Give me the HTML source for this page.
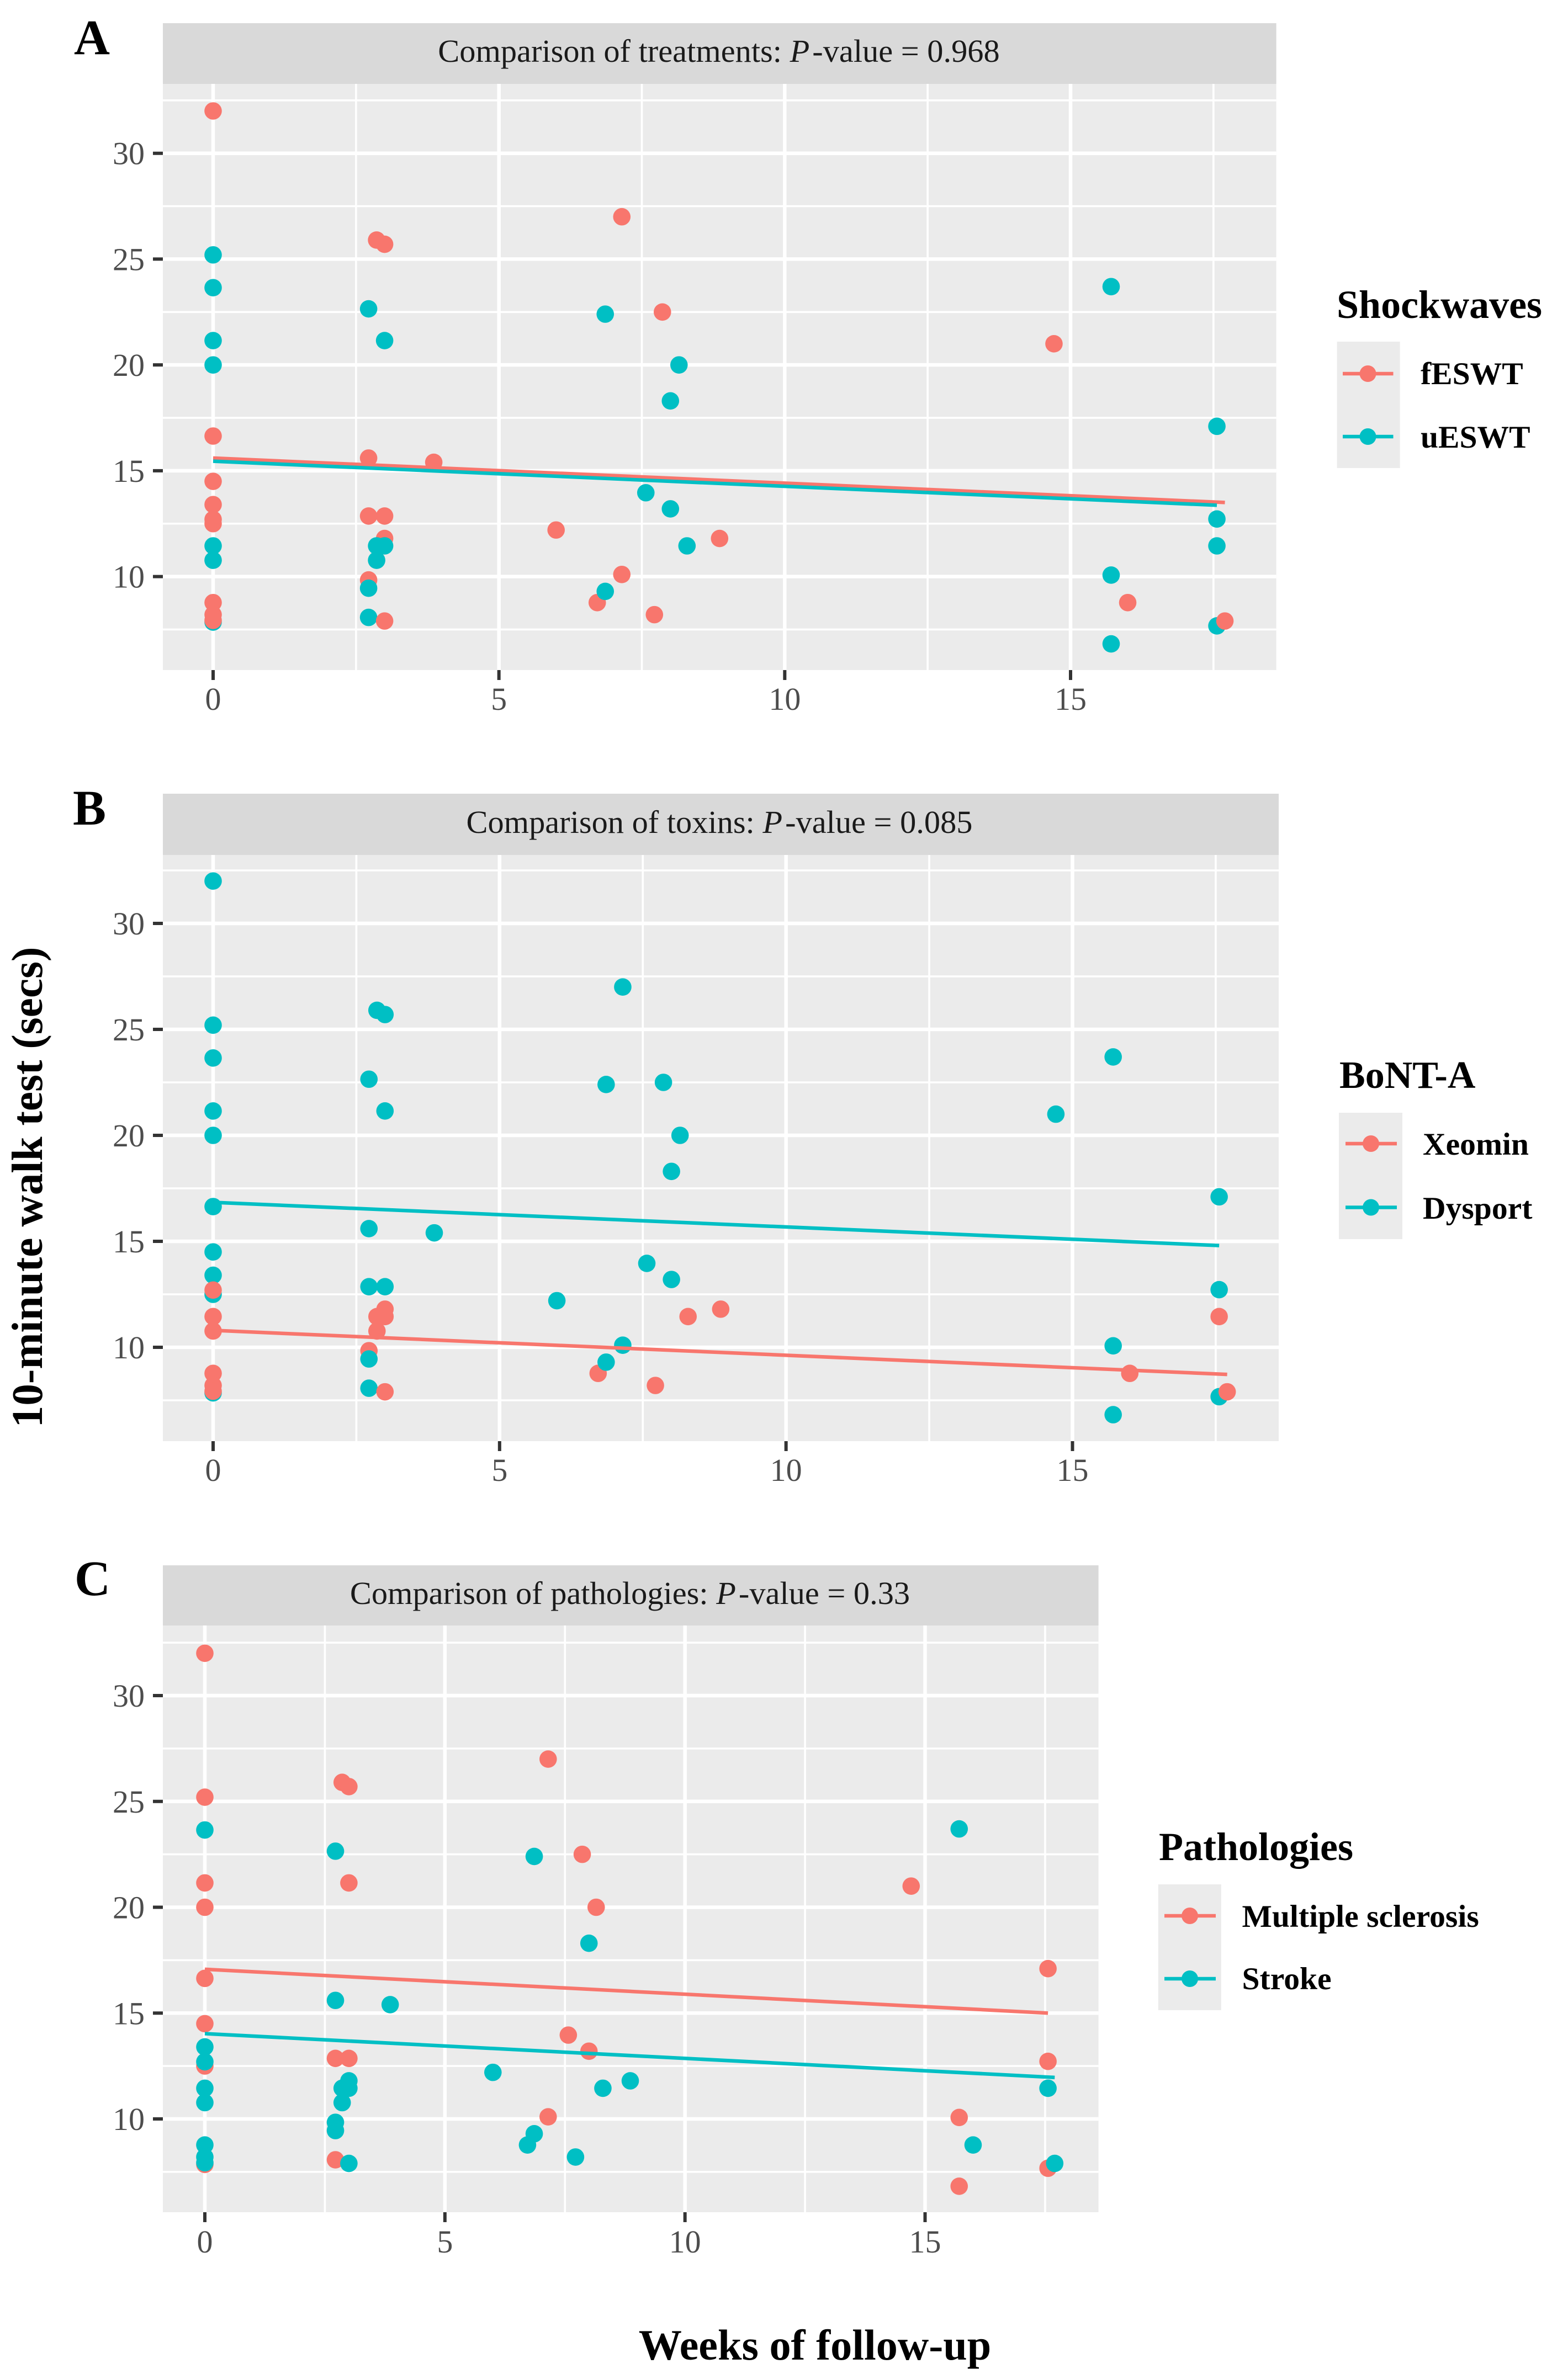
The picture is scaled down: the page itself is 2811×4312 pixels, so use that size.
<!DOCTYPE html>
<html lang="en">
<head>
<meta charset="utf-8">
<title>10-minute walk test by weeks of follow-up</title>
<style>
  html, body { margin: 0; padding: 0; background: #ffffff; }
  svg { display: block; font-family: "Liberation Serif", serif; }
  .panel-letter { font-size: 90px; font-weight: bold; fill: #000; }
  .strip-title { font-size: 58.4px; fill: #1a1a1a; text-anchor: middle; }
  .axis-title { font-size: 78.2px; font-weight: bold; fill: #000; }
  .legend-title { font-size: 72px; font-weight: bold; fill: #000; }
  .legend-label { font-size: 57.6px; font-weight: bold; fill: #000; }
  .tick-label { font-size: 58px; fill: #4d4d4d; }
</style>
</head>
<body>
<svg id="figure" xmlns="http://www.w3.org/2000/svg" width="2811" height="4312" viewBox="0 0 2811 4312">
  <rect x="0" y="0" width="2811" height="4312" fill="#ffffff"/>

  <!-- Panel A -->
  <g id="panel-a">
    <rect x="295" y="42" width="2016.6" height="110" fill="#d9d9d9"/>
    <text class="strip-title" x="1302" y="112">Comparison of treatments: <tspan font-style="italic">P</tspan><tspan dx="5">-value = 0.968</tspan></text>
    <text class="panel-letter" x="134" y="98">A</text>
  </g>
  <g>
    <text class="legend-title" x="2421" y="576">Shockwaves</text>
    <rect x="2421.6" y="619" width="114" height="229" fill="#ebebeb"/>
    <line x1="2432" x2="2523.5" y1="677" y2="677" stroke="#F8766D" stroke-width="6.5"/>
    <circle cx="2477.5" cy="677" r="15" fill="#F8766D"/>
    <line x1="2432" x2="2523.5" y1="791" y2="791" stroke="#00BFC4" stroke-width="6.5"/>
    <circle cx="2477.5" cy="791" r="15" fill="#00BFC4"/>
    <text class="legend-label" x="2573" y="696">fESWT</text>
    <text class="legend-label" x="2573" y="811">uESWT</text>
  </g>

  <!-- Panel B -->
  <g id="panel-b">
    <rect x="295" y="1438" width="2021" height="111" fill="#d9d9d9"/>
    <text class="strip-title" x="1303" y="1509">Comparison of toxins: <tspan font-style="italic">P</tspan><tspan dx="5">-value = 0.085</tspan></text>
    <text class="panel-letter" x="132" y="1494">B</text>
  </g>
  <g>
    <text class="legend-title" x="2426" y="1971" style="font-size:70px">BoNT-A</text>
    <rect x="2425" y="2016" width="115" height="229" fill="#ebebeb"/>
    <line x1="2437" x2="2530" y1="2072" y2="2072" stroke="#F8766D" stroke-width="6.5"/>
    <circle cx="2483" cy="2072" r="15" fill="#F8766D"/>
    <line x1="2437" x2="2530" y1="2187.5" y2="2187.5" stroke="#00BFC4" stroke-width="6.5"/>
    <circle cx="2483" cy="2187.5" r="15" fill="#00BFC4"/>
    <text class="legend-label" x="2577" y="2092">Xeomin</text>
    <text class="legend-label" x="2577" y="2208">Dysport</text>
  </g>

  <!-- Panel C -->
  <g id="panel-c">
    <rect x="295" y="2836" width="1694.6" height="109" fill="#d9d9d9"/>
    <text class="strip-title" x="1141" y="2906">Comparison of pathologies: <tspan font-style="italic">P</tspan><tspan dx="5">-value = 0.33</tspan></text>
    <text class="panel-letter" x="135" y="2890">C</text>
  </g>
  <g>
    <text class="legend-title" x="2099" y="3370">Pathologies</text>
    <rect x="2097.8" y="3414" width="114" height="228" fill="#ebebeb"/>
    <line x1="2109" x2="2202" y1="3471" y2="3471" stroke="#F8766D" stroke-width="6.5"/>
    <circle cx="2155" cy="3471" r="15" fill="#F8766D"/>
    <line x1="2109" x2="2202" y1="3585" y2="3585" stroke="#00BFC4" stroke-width="6.5"/>
    <circle cx="2155" cy="3585" r="15" fill="#00BFC4"/>
    <text class="legend-label" x="2249.5" y="3491">Multiple sclerosis</text>
    <text class="legend-label" x="2249.5" y="3604">Stroke</text>
  </g>

  <text class="axis-title" transform="translate(76,2151) rotate(-90)" text-anchor="middle" style="font-size:79.4px">10-minute walk test (secs)</text>
  <text class="axis-title" x="1476" y="4275" text-anchor="middle">Weeks of follow-up</text>
</svg>

<script>
// Shared observations: follow-up week and 10-minute walk test time.
const weeks = [
  0,0,0,0,0,0,0,0,0,0,0,0,0,0,0,0,
  2.72,2.72,2.72,2.72,2.72,2.72,
  2.86,3,3,3,3,3,2.86,2.86,3,
  3.86,6,6.72,6.86,6.86,7.15,7.15,7.57,7.72,7.86,8,8,8.15,8.29,8.86,
  14.71,15.71,15.71,15.71,16,17.56,17.56,17.56,17.56,17.7
];
const walkTimes = [
  32,25.2,23.65,21.15,20,16.64,14.5,13.4,12.5,12.7,11.45,10.77,8.77,7.85,8.2,7.93,
  22.65,15.6,12.86,9.84,9.45,8.07,
  25.9,25.7,21.15,12.86,11.8,7.9,11.45,10.77,11.45,
  15.4,12.2,8.77,22.4,9.3,27,10.1,13.96,8.2,22.5,18.3,13.2,20,11.45,11.8,
  21,23.7,10.07,6.82,8.77,17.1,12.72,11.45,7.67,7.9
];
// Group membership per panel: 0 = first legend entry (salmon), 1 = second legend entry (teal).
const treatmentGroups = [
  0,1,1,1,1,0,0,0,0,0,1,1,0,1,0,0,
  1,0,0,0,1,1,
  0,0,1,0,0,0,1,1,1,
  0,0,0,1,1,0,0,1,0,0,1,1,1,1,0,
  0,1,1,1,0,1,1,1,1,0
];
const toxinGroups = [
  1,1,1,1,1,1,1,1,1,0,0,0,0,1,0,0,
  1,1,1,0,1,1,
  1,1,1,1,0,0,0,0,0,
  1,1,0,1,1,1,1,1,0,1,1,1,1,0,0,
  1,1,1,1,0,1,1,0,1,0
];
const pathologyGroups = [
  0,0,1,0,0,0,0,1,0,1,1,1,1,0,1,1,
  1,1,0,1,1,0,
  0,0,0,0,1,1,1,1,1,
  1,1,1,1,1,0,0,0,1,0,1,0,0,1,1,
  0,1,0,0,1,0,0,1,0,1
];
// Fitted trend values: value at first week, value at last week, per group.
const treatmentFitStart = [15.6, 15.45];
const treatmentFitEnd = [13.5, 13.37];
const toxinFitStart = [10.8, 16.84];
const toxinFitEnd = [8.72, 14.8];
const pathologyFitStart = [17.07, 14.03];
const pathologyFitEnd = [15.0, 11.96];
// Tick labels.
const xTickLabels = [0, 5, 10, 15];
const yTickLabels = [10, 15, 20, 25, 30];
const xMinorTicks = [2.5, 7.5, 12.5, 17.5];
const yMinorTicks = [7.5, 12.5, 17.5, 22.5, 27.5, 32.5];

const groupColors = ['#F8766D', '#00BFC4'];
const SVG_NS = 'http://www.w3.org/2000/svg';

function makeEl(tag, parent) {
  const el = document.createElementNS(SVG_NS, tag);
  parent.appendChild(el);
  return el;
}

function drawPanel(opts) {
  const root = document.getElementById(opts.id);
  const xPos = function (v) { return opts.x0 + (opts.x15 - opts.x0) * v / 15; };
  const yPos = function (v) { return opts.y10 + (opts.y30 - opts.y10) * (v - 10) / 20; };

  const bg = makeEl('rect', root);
  bg.setAttribute('x', opts.left);
  bg.setAttribute('y', opts.top);
  bg.setAttribute('width', opts.right - opts.left);
  bg.setAttribute('height', opts.bottom - opts.top);
  bg.setAttribute('fill', '#ebebeb');
  
  

  yMinorTicks.forEach(function (v) {
    const g = makeEl('line', root);
    g.setAttribute('x1', opts.left);
    g.setAttribute('x2', opts.right);
    g.setAttribute('y1', yPos(v));
    g.setAttribute('y2', yPos(v));
    g.setAttribute('stroke', '#ffffff');
    g.setAttribute('stroke-width', 3.6);
    
    
  });
  xMinorTicks.forEach(function (v) {
    const g = makeEl('line', root);
    g.setAttribute('x1', xPos(v));
    g.setAttribute('x2', xPos(v));
    g.setAttribute('y1', opts.top);
    g.setAttribute('y2', opts.bottom);
    g.setAttribute('stroke', '#ffffff');
    g.setAttribute('stroke-width', 3.6);
    
    
  });
  yTickLabels.forEach(function (v) {
    const g = makeEl('line', root);
    g.setAttribute('x1', opts.left);
    g.setAttribute('x2', opts.right);
    g.setAttribute('y1', yPos(v));
    g.setAttribute('y2', yPos(v));
    g.setAttribute('stroke', '#ffffff');
    g.setAttribute('stroke-width', 6.5);
    
    

    const t = makeEl('line', root);
    t.setAttribute('x1', opts.left - 18);
    t.setAttribute('x2', opts.left);
    t.setAttribute('y1', yPos(v));
    t.setAttribute('y2', yPos(v));
    t.setAttribute('stroke', '#333333');
    t.setAttribute('stroke-width', 6);
    
    

    const lab = makeEl('text', root);
    lab.setAttribute('class', 'tick-label');
    lab.setAttribute('x', opts.left - 33);
    lab.setAttribute('y', yPos(v) + 20);
    lab.setAttribute('text-anchor', 'end');
    lab.textContent = String(v);
    
    
  });
  xTickLabels.forEach(function (v) {
    const g = makeEl('line', root);
    g.setAttribute('x1', xPos(v));
    g.setAttribute('x2', xPos(v));
    g.setAttribute('y1', opts.top);
    g.setAttribute('y2', opts.bottom);
    g.setAttribute('stroke', '#ffffff');
    g.setAttribute('stroke-width', 6.5);
    
    

    const t = makeEl('line', root);
    t.setAttribute('x1', xPos(v));
    t.setAttribute('x2', xPos(v));
    t.setAttribute('y1', opts.bottom);
    t.setAttribute('y2', opts.bottom + 18);
    t.setAttribute('stroke', '#333333');
    t.setAttribute('stroke-width', 6);
    
    

    const lab = makeEl('text', root);
    lab.setAttribute('class', 'tick-label');
    lab.setAttribute('x', xPos(v));
    lab.setAttribute('y', opts.xLabelY);
    lab.setAttribute('text-anchor', 'middle');
    lab.textContent = String(v);
    
    
  });

  weeks.forEach(function (w, i) {
    const p = makeEl('circle', root);
    p.setAttribute('cx', xPos(w));
    p.setAttribute('cy', yPos(walkTimes[i]));
    p.setAttribute('r', 15.8);
    p.setAttribute('fill', groupColors[opts.groups[i]]);
    
    
  });

  [0, 1].forEach(function (grp) {
    const groupWeeks = weeks.filter(function (w, i) { return opts.groups[i] === grp; });
    const first = Math.min.apply(null, groupWeeks);
    const last = Math.max.apply(null, groupWeeks);
    const l = makeEl('line', root);
    l.setAttribute('x1', xPos(first));
    l.setAttribute('x2', xPos(last));
    l.setAttribute('y1', yPos(opts.fitStart[grp]));
    l.setAttribute('y2', yPos(opts.fitEnd[grp]));
    l.setAttribute('stroke', groupColors[grp]);
    l.setAttribute('stroke-width', 6.5);
    
    
  });

  // Keep strip title and panel letter above the plot background ordering.
  Array.prototype.slice.call(root.querySelectorAll('.strip-title, .panel-letter')).forEach(function (n) {
    root.appendChild(n);
  });
}

drawPanel({
  id: 'panel-a', left: 295, right: 2311.6, top: 152, bottom: 1214,
  x0: 386, x15: 1939, y10: 1044.6, y30: 277.7, xLabelY: 1286,
  groups: treatmentGroups, fitStart: treatmentFitStart, fitEnd: treatmentFitEnd
});
drawPanel({
  id: 'panel-b', left: 295, right: 2316, top: 1549, bottom: 2611,
  x0: 386, x15: 1942.5, y10: 2441, y30: 1673, xLabelY: 2683,
  groups: toxinGroups, fitStart: toxinFitStart, fitEnd: toxinFitEnd
});
drawPanel({
  id: 'panel-c', left: 295, right: 1989.6, top: 2945, bottom: 4008,
  x0: 371, x15: 1675.5, y10: 3839, y30: 3072, xLabelY: 4081,
  groups: pathologyGroups, fitStart: pathologyFitStart, fitEnd: pathologyFitEnd
});
</script>
</body>
</html>
